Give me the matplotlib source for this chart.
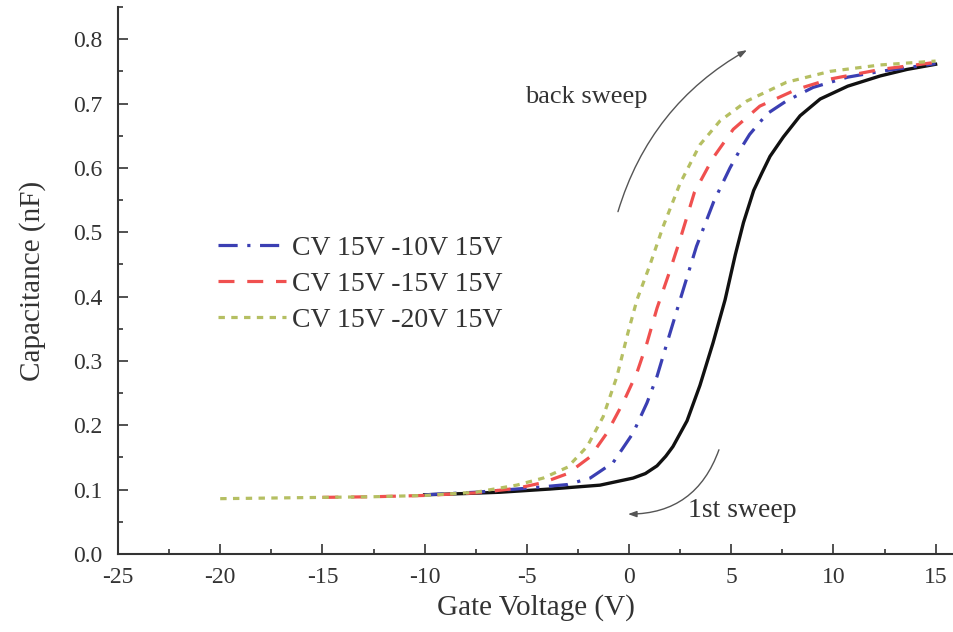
import matplotlib
matplotlib.use("Agg")
import matplotlib.pyplot as plt
from matplotlib.ticker import MultipleLocator

plt.rcParams["font.family"] = ["Liberation Serif", "DejaVu Serif"]
plt.rcParams["axes.unicode_minus"] = False

# First sweep (15 V -> -10 V), solid black
v_first = [-10, -8, -6.3, -3.86, -1.42, 0.2, 0.8, 1.37, 1.8, 2.15, 2.84,
           3.47, 4.11, 4.70, 5.2, 5.6, 6.1, 6.5, 6.9, 7.55, 8.37, 9.35,
           10.7, 12.3, 13.6, 15]
c_first = [0.092, 0.094, 0.096, 0.101, 0.107, 0.118, 0.125, 0.137, 0.152,
           0.167, 0.207, 0.262, 0.328, 0.395, 0.465, 0.515, 0.565, 0.592,
           0.618, 0.648, 0.681, 0.707, 0.727, 0.743, 0.753, 0.761]

# Back sweep from -10 V
v_m10 = [-10, -7.5, -4.7, -3.0, -1.9, -0.78, 0.2, 0.88, 1.37, 1.86, 2.5,
         3.3, 4.15, 4.94, 5.43, 5.9, 6.75, 7.7, 9.0, 10.7, 12.3, 15]
c_m10 = [0.092, 0.096, 0.103, 0.108, 0.118, 0.142, 0.188, 0.235, 0.276,
         0.328, 0.395, 0.478, 0.548, 0.600, 0.628, 0.652, 0.684, 0.704,
         0.725, 0.741, 0.750, 0.762]

# Back sweep from -15 V
v_m15 = [-15, -12.5, -10, -7.5, -5.5, -4.2, -3.0, -1.9, -1.08, -0.29, 0.39,
         0.88, 1.37, 2.0, 2.5, 3.2, 4.1, 5.1, 6.4, 8.2, 9.83, 12.3, 15]
c_m15 = [0.088, 0.089, 0.091, 0.095, 0.102, 0.111, 0.125, 0.151, 0.188,
         0.235, 0.282, 0.328, 0.382, 0.440, 0.489, 0.562, 0.615, 0.660,
         0.696, 0.722, 0.738, 0.753, 0.764]

# Back sweep from -20 V
v_m20 = [-20, -17.5, -15, -12.5, -10, -7.5, -5.5, -4.2, -3.0, -2.05, -1.27,
         -0.59, -0.05, 0.39, 1.0, 1.67, 2.5, 3.47, 4.45, 5.77, 7.7, 9.83,
         12.3, 15]
c_m20 = [0.086, 0.087, 0.088, 0.089, 0.091, 0.096, 0.107, 0.118, 0.135,
         0.167, 0.213, 0.276, 0.344, 0.395, 0.447, 0.509, 0.576, 0.636,
         0.673, 0.704, 0.733, 0.750, 0.760, 0.766]

labels = ["CV 15V -10V 15V", "CV 15V -15V 15V", "CV 15V -20V 15V"]

text_color = "#333333"

fig = plt.figure(figsize=(9.54, 6.32), dpi=100)
ax = fig.add_axes([0.1237, 0.1234, 0.8763, 0.8655])

ax.plot(v_first, c_first, color="#111111", lw=2.4, solid_joinstyle="round")
ax.plot(v_m10, c_m10, color="#3b3fb3", lw=2.3, dashes=(6, 3, 1, 3), label=labels[0])
ax.plot(v_m15, c_m15, color="#f0504f", lw=2.3, dashes=(5, 4), label=labels[1])
ax.plot(v_m20, c_m20, color="#b5bf62", lw=2.3, dashes=(2, 2), label=labels[2])

ax.set_xlim(-25, 15.9)
ax.set_ylim(0, 0.85)
ax.xaxis.set_major_locator(MultipleLocator(5))
ax.xaxis.set_minor_locator(MultipleLocator(2.5))
ax.yaxis.set_major_locator(MultipleLocator(0.1))
ax.yaxis.set_minor_locator(MultipleLocator(0.05))
ax.xaxis.set_major_formatter(plt.FuncFormatter(lambda v, p: f"{v:.0f}"))
ax.yaxis.set_major_formatter(plt.FuncFormatter(lambda v, p: f"{v:.1f}"))

for s in ("top", "right"):
    ax.spines[s].set_visible(False)
for s in ("left", "bottom"):
    ax.spines[s].set_color("#333333")
    ax.spines[s].set_linewidth(1.5)

ax.tick_params(which="both", direction="in", color="#333333", width=1.2)
ax.tick_params(which="major", length=7)
ax.tick_params(which="minor", length=3.5)
ax.tick_params(axis="y", labelsize=17, pad=11, labelcolor=text_color)
ax.tick_params(axis="x", labelsize=17, pad=9, labelcolor=text_color)

ax.set_xlabel("Gate Voltage (V)", fontsize=21, color=text_color, labelpad=5)
ax.set_ylabel("Capacitance (nF)", fontsize=21, color=text_color, labelpad=20)

leg = ax.legend(loc="upper left", bbox_to_anchor=(0.120, 0.582), frameon=False,
                fontsize=20, handlelength=2.45, handletextpad=0.2,
                labelspacing=0.38, borderaxespad=0, borderpad=0)
for t in leg.get_texts():
    t.set_color(text_color)

arrow_kw = dict(arrowstyle="-|>,head_length=0.5,head_width=0.18",
                color="#555555", lw=1.0, shrinkA=0, shrinkB=0)
ax.annotate("", xy=(5.77, 0.783), xytext=(-0.54, 0.532),
            arrowprops=dict(connectionstyle="arc3,rad=-0.2", **arrow_kw))
ax.annotate("", xy=(-0.05, 0.062), xytext=(4.4, 0.162),
            arrowprops=dict(connectionstyle="arc3,rad=-0.35", **arrow_kw))
ax.text(-2.1, 0.71, "back sweep", fontsize=19, color=text_color,
        ha="center", va="center")
ax.text(5.55, 0.068, "1st sweep", fontsize=20, color=text_color,
        ha="center", va="center")

fig.savefig("out.png", dpi=100, facecolor="white")
